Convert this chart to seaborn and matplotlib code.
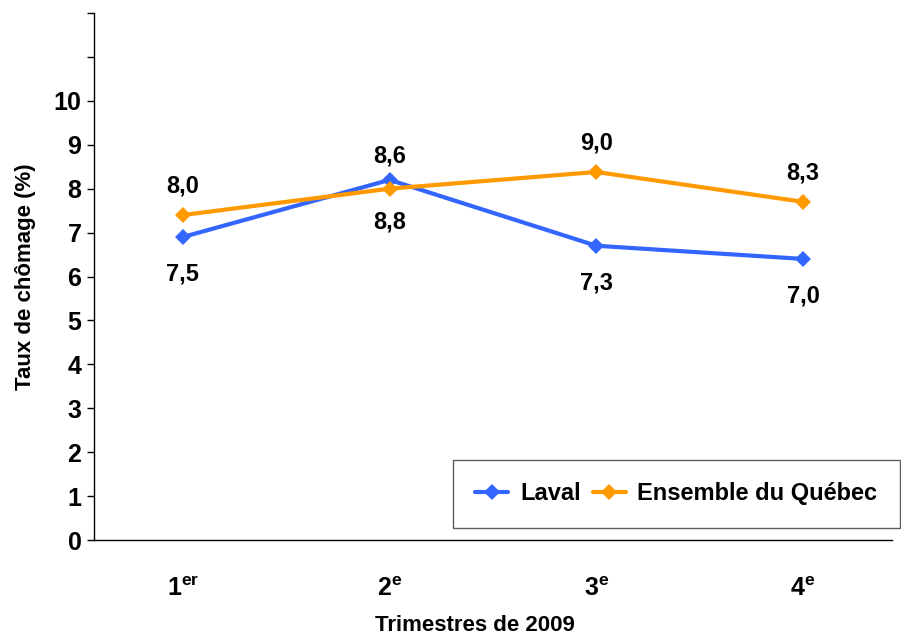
import pandas as pd
import seaborn as sns
import matplotlib.pyplot as plt

# données
trimestres = ["1er", "2e", "3e", "4e"]
tick_labels = [r"$\mathbf{1^{er}}$", r"$\mathbf{2^{e}}$", r"$\mathbf{3^{e}}$", r"$\mathbf{4^{e}}$"]
laval = [6.9, 8.2, 6.7, 6.4]
quebec = [7.4, 8.0, 8.38, 7.7]
laval_etiq = ["7,5", "8,6", "7,3", "7,0"]
quebec_etiq = ["8,0", "8,8", "9,0", "8,3"]

data_tab = pd.DataFrame({
    "Trimestre": trimestres * 2,
    "Taux": laval + quebec,
    "Region": ["Laval"] * 4 + ["Ensemble du Québec"] * 4,
})

sns.set_theme(style="white")
plt.rcParams['font.family'] = ['Liberation Sans', 'DejaVu Sans']
plt.rcParams['mathtext.fontset'] = 'custom'
plt.rcParams['mathtext.rm'] = 'Liberation Sans:bold'
plt.rcParams['mathtext.bf'] = 'Liberation Sans:bold'
plt.rcParams['text.color'] = 'black'
plt.rcParams['axes.labelcolor'] = 'black'
plt.rcParams['xtick.color'] = 'black'
plt.rcParams['ytick.color'] = 'black'

couleurs = {"Laval": "#3366FF", "Ensemble du Québec": "#FF9900"}

f = plt.figure(figsize=(9.01, 6.37), dpi=100)
ax = f.add_axes([94 / 901, 1 - 540 / 637, (892 - 94) / 901, (540 - 13) / 637])

sns.lineplot(data=data_tab, x="Trimestre", y="Taux", hue="Region", palette=couleurs,
             marker="D", markersize=8, markeredgewidth=0, linewidth=3, ax=ax)

# étiquettes de données
for i in range(4):
    if laval[i] > quebec[i]:
        dl, dq = 0.55, -0.75
    else:
        dl, dq = -0.85, 0.65
    ax.text(i, laval[i] + dl, laval_etiq[i], ha="center", va="center",
            fontsize=17, fontweight="bold")
    ax.text(i, quebec[i] + dq, quebec_etiq[i], ha="center", va="center",
            fontsize=17, fontweight="bold")

ax.set_xlim(-0.43, 3.43)
ax.set_ylim(0, 12)
ax.set_yticks(range(13))
ax.set_yticklabels([str(v) if v <= 10 else "" for v in range(13)], fontsize=18, fontweight="bold")
ax.set_xticks(range(4))
ax.set_xticklabels(tick_labels, fontsize=18)
ax.tick_params(axis="x", length=0, pad=27)
ax.tick_params(axis="y", length=5, width=1, direction="out", left=True, pad=4)

ax.set_xlabel("Trimestres de 2009", fontsize=16, fontweight="bold")
ax.set_ylabel("Taux de chômage (%)", fontsize=16, fontweight="bold")
ax.xaxis.set_label_coords(0.477, -0.142)
ax.yaxis.set_label_coords(-0.073, 0.5)

for s in ["top", "right"]:
    ax.spines[s].set_visible(False)
for s in ["left", "bottom"]:
    ax.spines[s].set_color("black")
    ax.spines[s].set_linewidth(1)

leg = ax.legend(title=None, ncol=2, loc="lower right", bbox_to_anchor=(1.01, 0.023),
                borderaxespad=0, fontsize=17, frameon=True, fancybox=False, borderpad=0.95,
                handlelength=1.4, columnspacing=0.5, handletextpad=0.5)
leg.get_frame().set_edgecolor("#333333")
leg.get_frame().set_linewidth(1)
for t in leg.get_texts():
    t.set_fontweight("bold")

plt.savefig("out.png", dpi=100)
